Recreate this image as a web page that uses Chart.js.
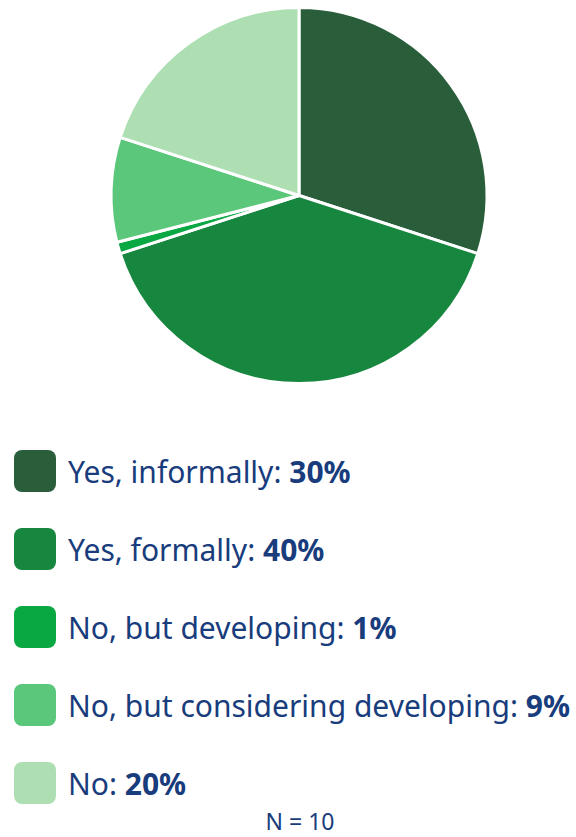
<!DOCTYPE html>
<html>
<head>
<meta charset="utf-8">
<script src="https://cdn.jsdelivr.net/npm/chart.js@4"></script>
<style>
  body { margin: 0; background: #fff; font-family: "Noto Sans", sans-serif; color: #183c7c; }
  #wrap { width: 576px; height: 837px; position: relative; }
  #pie-box { position: absolute; left: 0; top: 0; width: 576px; height: 391px; }
  #legend { position: absolute; left: 14px; top: 450px; }
  .item { display: flex; align-items: center; height: 42px; margin-bottom: 36px; }
  .swatch { width: 42px; height: 42px; border-radius: 8px; margin-right: 12px; flex: none; }
  .label { font-size: 30px; white-space: nowrap; }
  .label b { font-weight: 700; }
  #n { position: absolute; left: 0; width: 600px; top: 806px; text-align: center; font-size: 23px; line-height: 30px; }
</style>
</head>
<body>
<div id="wrap">
  <div id="pie-box"><canvas id="pie"></canvas></div>
  <div id="legend"></div>
  <div id="n">N = 10</div>
</div>
<script>
// Survey answers and their share of respondents
const answers = ['Yes, informally', 'Yes, formally', 'No, but developing', 'No, but considering developing', 'No'];
const shares = [30, 40, 1, 9, 20];
const colors = ['#2a5e3b', '#17863e', '#0aa843', '#5bc77a', '#addfb3'];

new Chart(document.getElementById('pie'), {
  type: 'pie',
  data: {
    labels: answers,
    datasets: [{
      data: shares,
      backgroundColor: colors,
      borderColor: '#ffffff',
      borderWidth: 3,
    }],
  },
  options: {
    responsive: true,
    maintainAspectRatio: false,
    animation: false,
    layout: { padding: { left: 22, top: 6, bottom: 6 } },
    plugins: {
      legend: { display: false },
      tooltip: { enabled: false },
    },
  },
});

// Legend built from the same arrays
const legend = document.getElementById('legend');
answers.forEach((name, i) => {
  const row = document.createElement('div');
  row.className = 'item';
  row.innerHTML = '<span class="swatch" style="background:' + colors[i] + '"></span>' +
    '<span class="label">' + name + ': <b>' + shares[i] + '%</b></span>';
  legend.appendChild(row);
});
</script>
</body>
</html>
